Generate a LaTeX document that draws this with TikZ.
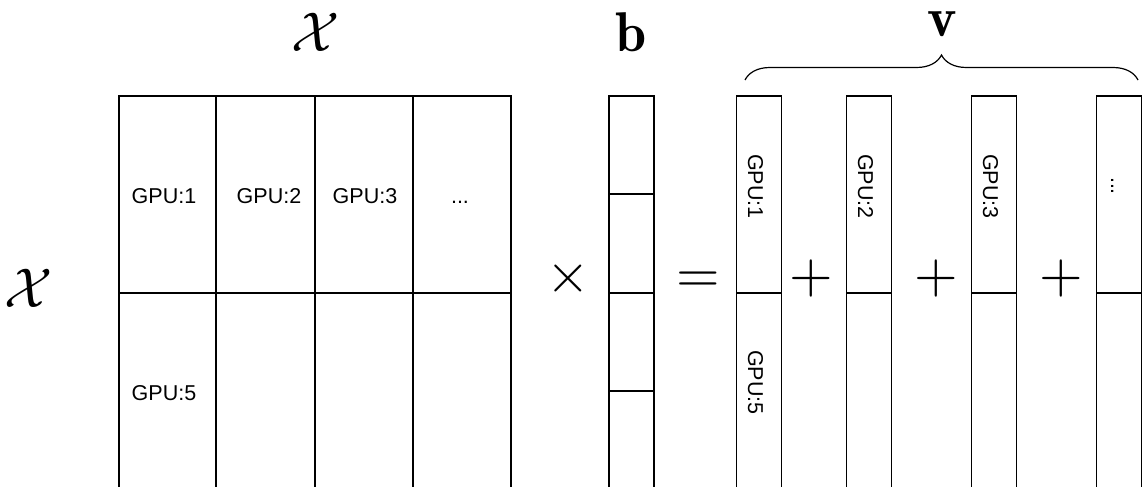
\documentclass[tikz,border=0pt]{standalone}
\usepackage{fontspec}
\newfontfamily\gpufont{Liberation Sans}
\usetikzlibrary{decorations.pathreplacing}

\begin{document}
\begin{tikzpicture}[x=1pt, y=-1pt,
  grid/.style={line width=1.2pt, black},
  cell/.style={font=\gpufont\fontsize{21.5}{24}\selectfont, inner sep=0pt, anchor=base},
  vcell/.style={cell, rotate=-90},
  bigmath/.style={scale=5.6, inner sep=0pt, anchor=base}]
\useasboundingbox (0,0) rectangle (1144,487);
\begin{scope}
\clip (0,0) rectangle (1144,487);

% partitioned matrix X
\draw[grid] (119,487) -- (119,96) -- (511,96) -- (511,487);
\foreach \cx in {216,315,413} \draw[grid] (\cx,96) -- (\cx,487);
\draw[grid] (119,293) -- (511,293);

% vector b
\draw[grid] (609,487) -- (609,96) -- (654,96) -- (654,487);
\foreach \ry in {194,293,391} \draw[grid] (609,\ry) -- (654,\ry);

% partial result columns of v
\foreach \cx in {736.5,846.5,971.5,1096.5} {
  \draw[grid] (\cx,487) -- (\cx,96) -- (\cx+45,96) -- (\cx+45,487);
  \draw[grid] (\cx,293) -- (\cx+45,293);
}
\end{scope}

% labels of the matrix blocks
\node[cell] (g1) at (164,203) {GPU:1};
\node[cell] (g2) at (269,203) {GPU:2};
\node[cell] (g3) at (365,203) {GPU:3};
\node[cell] (gd) at (460,203) {...};
\node[cell] (g5) at (164,400) {GPU:5};

% labels of the result columns
\node[vcell] (v1) at (748,186.5) {GPU:1};
\node[vcell] (v5) at (748,382.5) {GPU:5};
\node[vcell] (v2) at (858,186.5) {GPU:2};
\node[vcell] (v3) at (983,186.5) {GPU:3};
\node[vcell] (vd) at (1111,186) {...};

% operators
\node[bigmath] (times) at (568,292) {$\times$};
\node[bigmath] (eq) at (698,292) {$=$};
\node[bigmath] (p1) at (811,292) {$+$};
\node[bigmath] (p2) at (936,292) {$+$};
\node[bigmath] (p3) at (1061,292) {$+$};

% symbols
\node[bigmath] (Xtop) at (316,52) {$\mathcal{X}$};
\node[bigmath] (Xleft) at (29,307) {$\mathcal{X}$};
\node[bigmath] (b) at (631,52) {$\mathbf{b}$};
\node[bigmath] (v) at (942,37) {$\mathbf{v}$};

% brace over the partial results
\coordinate (bl) at (745,80);
\coordinate (br) at (1138,80);
\draw[line width=1.2pt, decorate, decoration={brace, amplitude=25pt}] (bl) -- (br);
\end{tikzpicture}
\end{document}
